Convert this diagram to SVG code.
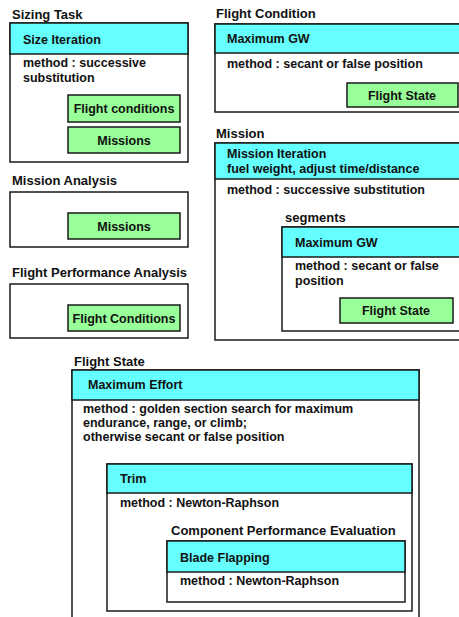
<svg xmlns="http://www.w3.org/2000/svg" width="459" height="617" viewBox="0 0 459 617">
<style>
text{font-family:"Liberation Sans",Arial,sans-serif;font-weight:bold;font-size:12.5px;fill:#111}
.t{font-size:13px}
.c{text-anchor:middle}
.box{fill:#fff;stroke:#1a1a1a;stroke-width:1.5}
.hd{fill:#66ffff;stroke:#1a1a1a;stroke-width:1.5}
.gr{fill:#99ff99;stroke:#1a1a1a;stroke-width:1.5}
</style>
<rect width="459" height="617" fill="#fff"/>
<g id="sizing-task">
<text class="t" x="12" y="19">Sizing Task</text>
<rect class="box" x="10" y="23" width="178" height="139"/>
<rect class="hd" x="10" y="23" width="178" height="31"/>
<text x="23" y="44">Size Iteration</text>
<text x="23" y="67">method : successive</text>
<text x="23" y="82">substitution</text>
<g id="sizing-flight-conditions"><rect class="gr" x="68" y="95" width="112" height="27"/><text class="c" x="124" y="113">Flight conditions</text></g>
<g id="sizing-missions"><rect class="gr" x="68" y="127" width="112" height="26"/><text class="c" x="124" y="145">Missions</text></g>
</g>
<g id="mission-analysis">
<text class="t" x="12" y="185">Mission Analysis</text>
<rect class="box" x="10" y="192" width="178" height="55"/>
<g id="ma-missions"><rect class="gr" x="68" y="213" width="112" height="26"/><text class="c" x="124" y="231">Missions</text></g>
</g>
<g id="flight-performance-analysis">
<text class="t" x="12" y="277">Flight Performance Analysis</text>
<rect class="box" x="10" y="284" width="178" height="54"/>
<g id="fpa-flight-conditions"><rect class="gr" x="68" y="305" width="112" height="26"/><text class="c" x="124" y="323">Flight Conditions</text></g>
</g>
<g id="flight-condition">
<text class="t" x="216" y="18">Flight Condition</text>
<rect class="box" x="215" y="24" width="250" height="88"/>
<rect class="hd" x="215" y="24" width="250" height="29"/>
<text x="227" y="43">Maximum GW</text>
<text x="227" y="68">method : secant or false position</text>
<g id="fc-flight-state"><rect class="gr" x="347" y="83" width="111" height="24"/><text class="c" x="402" y="100">Flight State</text></g>
</g>
<g id="mission">
<text class="t" x="216" y="138">Mission</text>
<rect class="box" x="215" y="143" width="250" height="197"/>
<rect class="hd" x="215" y="143" width="250" height="36"/>
<text x="227" y="158">Mission Iteration</text>
<text x="227" y="173">fuel weight, adjust time/distance</text>
<text x="227" y="194">method : successive substitution</text>
<g id="segments">
<text class="t" x="285" y="222">segments</text>
<rect class="box" x="282" y="227" width="183" height="104"/>
<rect class="hd" x="282" y="227" width="183" height="30"/>
<text x="295" y="247">Maximum GW</text>
<text x="295" y="270">method : secant or false</text>
<text x="295" y="285">position</text>
<g id="seg-flight-state"><rect class="gr" x="340" y="298" width="113" height="25"/><text class="c" x="396" y="315">Flight State</text></g>
</g>
</g>
<g id="flight-state">
<text class="t" x="74" y="366">Flight State</text>
<rect class="box" x="72" y="370" width="347" height="260"/>
<rect class="hd" x="72" y="370" width="347" height="30"/>
<text x="88" y="389">Maximum Effort</text>
<text x="83" y="413">method : golden section search for maximum</text>
<text x="83" y="427">endurance, range, or climb;</text>
<text x="83" y="441">otherwise secant or false position</text>
<g id="trim">
<rect class="box" x="107" y="464" width="305" height="147"/>
<rect class="hd" x="107" y="464" width="305" height="29"/>
<text x="120" y="483">Trim</text>
<text x="120" y="507">method : Newton-Raphson</text>
<g id="component-performance-evaluation">
<text class="t" x="171" y="535">Component Performance Evaluation</text>
<rect class="box" x="167" y="541" width="238" height="61"/>
<rect class="hd" x="167" y="541" width="238" height="31"/>
<text x="180" y="562">Blade Flapping</text>
<text x="180" y="585">method : Newton-Raphson</text>
</g>
</g>
</g>
<g id="connectors"/>
</svg>
